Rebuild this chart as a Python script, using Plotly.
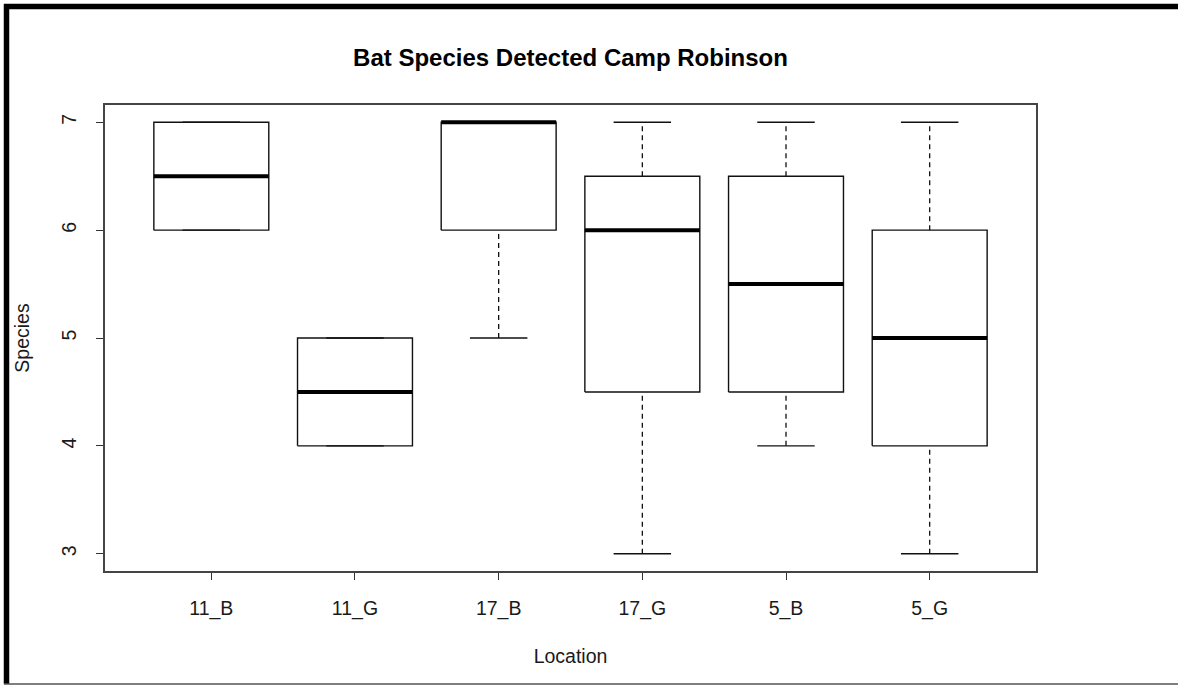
import plotly.graph_objects as go

# ---- data ----
locations = ["11_B", "11_G", "17_B", "17_G", "5_B", "5_G"]
lower_whisker = [6, 4, 5, 3, 4, 3]
q1 = [6, 4, 6, 4.5, 4.5, 4]
median = [6.5, 4.5, 7, 6, 5.5, 5]
q3 = [7, 5, 7, 6.5, 6.5, 6]
upper_whisker = [7, 5, 7, 7, 7, 7]
y_ticks = [3, 4, 5, 6, 7]

title_text = "Bat Species Detected Camp Robinson"
x_title = "Location"
y_title = "Species"

# ---- styling ----
W, H = 1178, 685
ML, MR, MT, MB = 105, 142, 105, 114
HW = 0.4          # half box width (boxwex 0.8)
CAP = HW / 2      # staple half width (staplewex 0.5)
FONT = "Liberation Sans, Arial, sans-serif"
LINE = "#111111"

xs = list(range(1, len(locations) + 1))

bx, by, mx, my, wx, wy, cx, cy = [], [], [], [], [], [], [], []
for i, x in enumerate(xs):
    bx += [x - HW, x + HW, x + HW, x - HW, x - HW, None]
    by += [q1[i], q1[i], q3[i], q3[i], q1[i], None]
    mx += [x - HW, x + HW, None]
    my += [median[i], median[i], None]
    wx += [x, x, None, x, x, None]
    wy += [q3[i], upper_whisker[i], None, lower_whisker[i], q1[i], None]
    cx += [x - CAP, x + CAP, None, x - CAP, x + CAP, None]
    cy += [upper_whisker[i], upper_whisker[i], None, lower_whisker[i], lower_whisker[i], None]

fig = go.Figure()
fig.add_trace(go.Scatter(x=wx, y=wy, mode="lines", line=dict(color=LINE, width=1.3, dash="5px,4px"),
                         hoverinfo="skip", showlegend=False))
fig.add_trace(go.Scatter(x=cx, y=cy, mode="lines", line=dict(color=LINE, width=1.4),
                         hoverinfo="skip", showlegend=False))
fig.add_trace(go.Scatter(x=bx, y=by, mode="lines", line=dict(color=LINE, width=1.4),
                         hoverinfo="skip", showlegend=False))
fig.add_trace(go.Scatter(x=mx, y=my, mode="lines", line=dict(color="#000000", width=4),
                         hoverinfo="skip", showlegend=False))

pw, ph = W - ML - MR, H - MT - MB


def px_x(p):
    return (p - ML) / pw


def px_y(p):
    return (H - MB - p) / ph


shapes = [
    # outer page frame (thick top and left, thin bottom)
    dict(type="line", xref="paper", yref="paper", x0=px_x(6.5), x1=px_x(6.5), y0=px_y(684), y1=px_y(4),
         line=dict(color="#000000", width=5.5)),
    dict(type="line", xref="paper", yref="paper", x0=px_x(4), x1=px_x(W), y0=px_y(6.5), y1=px_y(6.5),
         line=dict(color="#000000", width=5.5)),
    dict(type="line", xref="paper", yref="paper", x0=px_x(4), x1=px_x(W), y0=px_y(684), y1=px_y(684),
         line=dict(color="#555555", width=1.5)),
]

fig.update_layout(
    width=W, height=H,
    margin=dict(l=ML, r=MR, t=MT, b=MB),
    paper_bgcolor="white", plot_bgcolor="white",
    font=dict(family=FONT, size=19.5, color="#1a1a1a"),
    title=dict(text=f"<b>{title_text}</b>", x=(ML + pw / 2) / W, xanchor="center",
               y=1 - 58 / H, yanchor="middle", yref="container",
               font=dict(family=FONT, size=24, color="#000000")),
    shapes=shapes,
    showlegend=False,
)
fig.update_xaxes(
    range=[0.26, len(locations) + 0.74], tickmode="array", tickvals=xs, ticktext=locations,
    ticks="outside", ticklen=7, tickcolor="#333333", tickwidth=1.3,
    showline=True, mirror=True, linecolor="#444444", linewidth=1.5,
    showgrid=False, zeroline=False, ticklabelstandoff=12,
    title=dict(text=x_title, standoff=30, font=dict(size=19.5)),
)
fig.update_yaxes(
    range=[2.84, 7.16], tickmode="array", tickvals=y_ticks, ticktext=[str(v) for v in y_ticks],
    ticks="outside", ticklen=7, tickcolor="#333333", tickwidth=1.3, tickangle=-90,
    showline=True, mirror=True, linecolor="#444444", linewidth=1.5,
    showgrid=False, zeroline=False, ticklabelstandoff=12,
    title=dict(text=y_title, standoff=24, font=dict(size=19.5)),
)

fig.write_html("out.html")
